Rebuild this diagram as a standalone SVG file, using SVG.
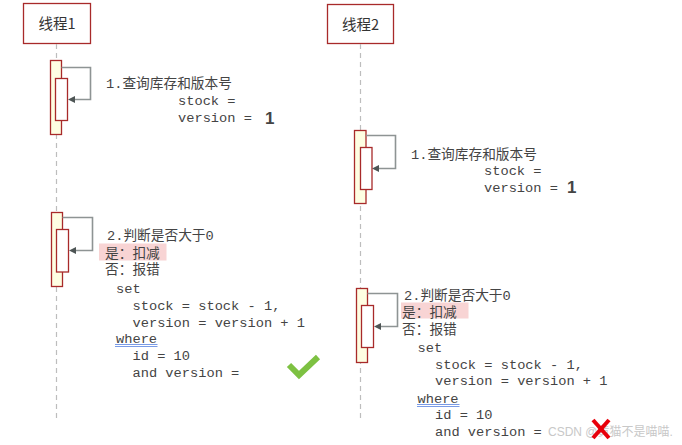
<svg xmlns="http://www.w3.org/2000/svg" width="682" height="445" viewBox="0 0 682 445">
<style>
.hdr{fill:#fff;stroke:#A82A2A;stroke-width:1.3}
.hdrt{font-family:"Noto Sans CJK SC","Liberation Sans",sans-serif;font-size:14.5px;fill:#333;text-anchor:middle}
.life{stroke:#BDBDBD;stroke-width:1.2;stroke-dasharray:5 4;fill:none}
.act{fill:#FEFEE2;stroke:#A82A2A;stroke-width:1.3}
.act2{fill:#fff;stroke:#A82A2A;stroke-width:1.3}
.loop{fill:none;stroke:#8E9494;stroke-width:1.6}
.t{font-family:"Liberation Mono","Noto Sans CJK SC",monospace;font-size:13.7px;fill:#444}
.one{font-family:"Liberation Sans",sans-serif;font-weight:bold;font-size:17px;fill:#444}
.hl{fill:#F8D4D4}
.ul{stroke:#7A9BE6;stroke-width:1}
.wm{font-family:"Liberation Sans","Noto Sans CJK SC",sans-serif;font-size:12px;fill:#C8C8C8}
</style>
<defs>
<marker id="ah" markerUnits="userSpaceOnUse" markerWidth="8" markerHeight="8" refX="0" refY="3.5" orient="auto" viewBox="0 0 8 7">
<path d="M0,3.5 L7,0 L7,7 Z" fill="#4E5555" transform="rotate(180 3.5 3.5)"/>
</marker>
</defs>

<g id="thread1">
<rect class="hdr" x="23.5" y="3.5" width="67" height="40"/>
<text class="hdrt" x="57" y="29">线程1</text>
</g>
<g id="thread2">
<rect class="hdr" x="327.5" y="4.5" width="66" height="39"/>
<text class="hdrt" x="360.5" y="30">线程2</text>
</g>

<g id="lifelines">
<line class="life" x1="56.5" y1="44" x2="56.5" y2="421"/>
<line class="life" x1="360.5" y1="44" x2="360.5" y2="422"/>
</g>

<g id="t1-act1">
<rect class="act" x="50.5" y="60.5" width="11" height="74"/>
<rect class="act2" x="55.5" y="78.5" width="12" height="42"/>
</g>
<g id="t1-act2">
<rect class="act" x="51.5" y="212.5" width="11" height="74"/>
<rect class="act2" x="56.5" y="229.5" width="12" height="42.5"/>
</g>
<g id="t2-act1">
<rect class="act" x="354.5" y="130.5" width="11.5" height="73"/>
<rect class="act2" x="360.5" y="147.5" width="11.5" height="42"/>
</g>
<g id="t2-act2">
<rect class="act" x="356.5" y="288.5" width="11" height="74"/>
<rect class="act2" x="361.5" y="305.5" width="12" height="42"/>
</g>

<g id="connectors">
<path class="loop" d="M61.5,67.5 H90.5 V99.5 H75" />
<path class="loop" d="M62.5,217.5 H92.5 V250.5 H76" />
<path class="loop" d="M366,135.5 H395.5 V168.5 H379" />
<path class="loop" d="M367.5,293.5 H397.5 V326.5 H381" />
<path d="M68,99.5 L75,96 L75,103 Z" fill="#4E5555"/>
<path d="M69,250.5 L76,247 L76,254 Z" fill="#4E5555"/>
<path d="M372,168.5 L379,165 L379,172 Z" fill="#4E5555"/>
<path d="M374,326.5 L381,323 L381,330 Z" fill="#4E5555"/>
</g>

<g id="t1-msg1">
<text class="t" x="106" y="88">1.查询库存和版本号</text>
<text class="t" x="178" y="105">stock =</text>
<text class="t" x="178" y="122">version =</text>
<text class="one" x="265" y="124">1</text>
</g>
<g id="t2-msg1">
<text class="t" x="411" y="159">1.查询库存和版本号</text>
<text class="t" x="484" y="175">stock =</text>
<text class="t" x="484" y="191.5">version =</text>
<text class="one" x="567" y="192.5">1</text>
</g>

<g id="t1-msg2">
<text class="t" x="107" y="240">2.判断是否大于0</text>
<rect class="hl" x="99" y="243.5" width="67.5" height="17"/>
<text class="t" x="105" y="257.5">是：扣减</text>
<text class="t" x="105" y="274">否：报错</text>
<text class="t" x="116" y="293">set</text>
<text class="t" x="132.5" y="310">stock = stock - 1,</text>
<text class="t" x="132.5" y="327">version = version + 1</text>
<text class="t" x="116" y="342.5">where</text>
<line class="ul" x1="115" y1="344.5" x2="157.5" y2="344.5"/>
<line class="ul" x1="115" y1="346.5" x2="157.5" y2="346.5"/>
<text class="t" x="132.5" y="359.5">id = 10</text>
<text class="t" x="132.5" y="376.5">and version =</text>
</g>
<g id="t2-msg2">
<text class="t" x="404" y="300">2.判断是否大于0</text>
<rect class="hl" x="401" y="302.5" width="67.5" height="16"/>
<text class="t" x="402" y="316.5">是：扣减</text>
<text class="t" x="402" y="333.5">否：报错</text>
<text class="t" x="417.5" y="351.5">set</text>
<text class="t" x="435" y="368.5">stock = stock - 1,</text>
<text class="t" x="435" y="385">version = version + 1</text>
<text class="t" x="417.5" y="402.5">where</text>
<line class="ul" x1="417" y1="404.5" x2="459.5" y2="404.5"/>
<line class="ul" x1="417" y1="406.5" x2="459.5" y2="406.5"/>
<text class="t" x="435" y="418.5">id = 10</text>
<text class="t" x="435" y="435.5">and version =</text>
</g>

<g id="check">
<polyline points="289,365 299,375 318,357" fill="none" stroke="#7DC142" stroke-width="6"/>
</g>

<text class="wm" x="548" y="436">CSDN @黄猫不是喵喵.</text>

<g id="cross">
<line x1="593" y1="420" x2="609" y2="438" stroke="#E8000B" stroke-width="4"/>
<line x1="609" y1="420" x2="593" y2="438" stroke="#E8000B" stroke-width="4"/>
</g>
</svg>
